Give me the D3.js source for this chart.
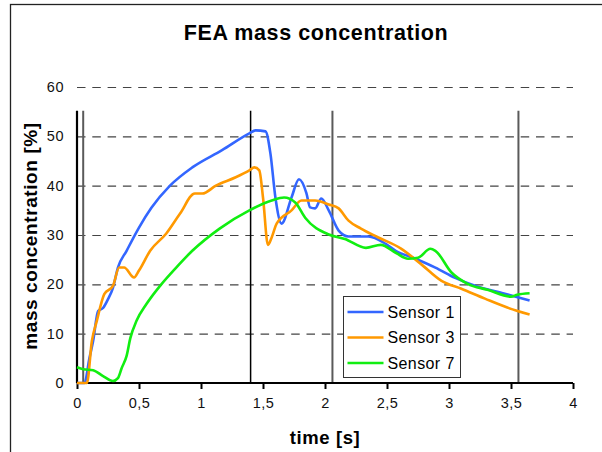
<!DOCTYPE html>
<html>
<head>
<meta charset="utf-8">
<script src="https://cdnjs.cloudflare.com/ajax/libs/d3/7.8.5/d3.min.js"></script>
<style>
    body { margin: 0; background: #fff; }
    svg { display: block; font-family: "Liberation Sans", Arial, sans-serif; }
</style>
</head>
<body>
<svg id="chart" width="602" height="452"></svg>
<script>
// values
var s1Time = [0, 0.06, 0.1, 0.13, 0.17, 0.21, 0.25, 0.29, 0.33, 0.4, 0.5, 0.6, 0.75, 0.93, 1.17, 1.39, 1.44, 1.52, 1.56, 1.6, 1.65, 1.73, 1.79, 1.85, 1.88, 1.92, 1.97, 2.03, 2.11, 2.19, 2.35, 2.49, 2.57, 2.73, 2.89, 3.05, 3.21, 3.45, 3.65];
var s1Val  = [0, 0, 5, 8.5, 14.6, 15.2, 17, 19.3, 23.4, 26.8, 31.5, 35.5, 40, 43.7, 47.2, 50.6, 51.2, 51, 46.5, 37.6, 32.3, 37.6, 41.3, 38.5, 35.6, 35.4, 37.4, 35, 30.9, 29.7, 29.7, 28.2, 26.8, 25.2, 23.4, 21.3, 19.7, 18.1, 16.7];

var s3Time = [0, 0.08, 0.12, 0.16, 0.22, 0.29, 0.34, 0.38, 0.46, 0.5, 0.59, 0.72, 0.83, 0.95, 1.01, 1.12, 1.28, 1.39, 1.43, 1.47, 1.5, 1.54, 1.57, 1.61, 1.73, 1.81, 1.92, 2.03, 2.11, 2.19, 2.29, 2.43, 2.61, 2.77, 2.94, 3.1, 3.29, 3.47, 3.65];
var s3Val  = [0, 0, 8.5, 12.6, 18, 19.7, 23.4, 23.4, 21.4, 22.8, 26.8, 30.3, 34.3, 38.4, 38.4, 40, 41.7, 43.1, 43.7, 43.1, 37.6, 28, 29.5, 32.3, 35, 37, 37, 36.2, 35.4, 32.9, 31.3, 29.5, 27.3, 24.2, 20.7, 19.1, 17.1, 15.3, 13.9];

var s7Time = [0, 0.05, 0.13, 0.21, 0.29, 0.33, 0.36, 0.4, 0.43, 0.48, 0.56, 0.67, 0.8, 0.93, 1.15, 1.39, 1.57, 1.67, 1.76, 1.84, 2.03, 2.16, 2.33, 2.45, 2.57, 2.67, 2.75, 2.85, 2.89, 3.02, 3.15, 3.31, 3.5, 3.55, 3.65];
var s7Val  = [3.2, 2.8, 2.6, 1.4, 0.4, 1.0, 3, 5.5, 9.1, 12.6, 16, 19.7, 23.4, 26.8, 31.3, 35, 37, 37.6, 36.6, 33.5, 30.1, 29.2, 27.4, 28, 26.4, 25.2, 25.4, 27.2, 26.8, 22.4, 20.1, 18.9, 17.5, 17.9, 18.2];

var seriesNames = ["Sensor 1", "Sensor 3", "Sensor 7"];
var seriesColors = ["#3366ff", "#ff9900", "#11ee11"];

var xTicks = [0, 0.5, 1, 1.5, 2, 2.5, 3, 3.5, 4];
var yTicks = [0, 10, 20, 30, 40, 50, 60];
// vertical marker lines [s]
var markers = [0.05, 1.4, 2.06, 3.56];
var markerTop = 55.2;

var svg = d3.select("#chart");

var x = d3.scaleLinear().domain([0, 4]).range([77, 573]);
var y = d3.scaleLinear().domain([0, 60]).range([383, 87]);

// outer frame (only left and top edges are visible)
svg.append("rect")
    .attr("x", 10.5).attr("y", 4.5)
    .attr("width", 640).attr("height", 500)
    .attr("fill", "none")
    .attr("stroke", "#222")
    .attr("stroke-width", 1.3);

svg.append("text")
    .attr("x", 316).attr("y", 40)
    .attr("text-anchor", "middle")
    .style("font-size", "21.5px")
    .style("font-weight", "bold")
    .style("letter-spacing", "0.6px")
    .text("FEA mass concentration");

// dashed grid
svg.append("g")
    .selectAll("line")
    .data(yTicks.filter(function (d) { return d > 0; }))
    .enter()
    .append("line")
    .attr("x1", x(0)).attr("x2", x(4))
    .attr("y1", function (d) { return y(d) + 0.5; })
    .attr("y2", function (d) { return y(d) + 0.5; })
    .attr("stroke", "#444")
    .attr("stroke-width", 1.2)
    .attr("stroke-dasharray", "8.5,6.8");

// markers
svg.append("g")
    .selectAll("line")
    .data(markers)
    .enter()
    .append("line")
    .attr("x1", function (d) { return x(d); })
    .attr("x2", function (d) { return x(d); })
    .attr("y1", y(markerTop)).attr("y2", y(0))
    .attr("stroke", function (d, i) { return i == 1 ? "#000" : "#5a5a5a"; })
    .attr("stroke-width", function (d, i) { return i == 1 ? 1.5 : 2; });

// x axis
var xAxis = d3.axisBottom(x)
    .tickValues(xTicks)
    .tickSize(6)
    .tickPadding(9)
    .tickFormat(function (d) { return String(d).replace(".", ","); });

var gx = svg.append("g")
    .attr("transform", "translate(0," + y(0) + ")")
    .call(xAxis);
gx.select(".domain").attr("stroke", "#000").attr("stroke-width", 2).attr("d", "M" + x(0) + ",0H" + x(4));
gx.selectAll(".tick line").attr("stroke", "#000").attr("stroke-width", 2);
gx.selectAll(".tick text")
    .style("font-size", "14.5px")
    .style("letter-spacing", "0.5px")
    .style("font-family", "'Liberation Sans', Arial, sans-serif")
    .attr("fill", "#111");

// y axis (line only reaches the marker height)
var yAxis = d3.axisLeft(y)
    .tickValues(yTicks)
    .tickSize(0)
    .tickPadding(13);

var gy = svg.append("g")
    .attr("transform", "translate(" + x(0) + ",0)")
    .call(yAxis);
gy.select(".domain").attr("d", "M0," + y(markerTop) + "V" + y(0))
    .attr("stroke", "#000").attr("stroke-width", 2.2);
gy.selectAll(".tick text")
    .style("font-size", "14.5px")
    .style("letter-spacing", "0.5px")
    .style("font-family", "'Liberation Sans', Arial, sans-serif")
    .attr("fill", "#111");

svg.append("text")
    .attr("x", 325).attr("y", 444)
    .attr("text-anchor", "middle")
    .style("font-size", "18.5px")
    .style("font-weight", "bold")
    .style("letter-spacing", "0.6px")
    .text("time [s]");

svg.append("text")
    .attr("transform", "translate(37,236) rotate(-90)")
    .attr("text-anchor", "middle")
    .style("font-size", "19px")
    .style("font-weight", "bold")
    .style("letter-spacing", "0.6px")
    .text("mass concentration [%]");

// curves
var series = [
    d3.zip(s1Time, s1Val),
    d3.zip(s3Time, s3Val),
    d3.zip(s7Time, s7Val)
];

var line = d3.line()
    .x(function (d) { return x(d[0]); })
    .y(function (d) { return y(d[1]); })
    .curve(d3.curveMonotoneX);

svg.append("g")
    .selectAll("path")
    .data(series)
    .enter()
    .append("path")
    .attr("d", line)
    .attr("fill", "none")
    .attr("stroke", function (d, i) { return seriesColors[i]; })
    .attr("stroke-width", 2.6)
    .attr("stroke-linejoin", "round");

// legend
var legend = svg.append("g").attr("transform", "translate(343.5,296.5)");
legend.append("rect")
    .attr("width", 117).attr("height", 81)
    .attr("fill", "#fff")
    .attr("stroke", "#333");

var item = legend.selectAll(".item")
    .data(seriesNames)
    .enter()
    .append("g")
    .attr("transform", function (d, i) { return "translate(0," + (15.5 + i * 25.5) + ")"; });
item.append("line")
    .attr("x1", 4).attr("x2", 40)
    .attr("stroke", function (d, i) { return seriesColors[i]; })
    .attr("stroke-width", 2.6);
item.append("text")
    .attr("x", 44).attr("dy", "0.36em")
    .style("font-size", "16px")
    .style("letter-spacing", "0.4px")
    .text(function (d) { return d; });
</script>
</body>
</html>
